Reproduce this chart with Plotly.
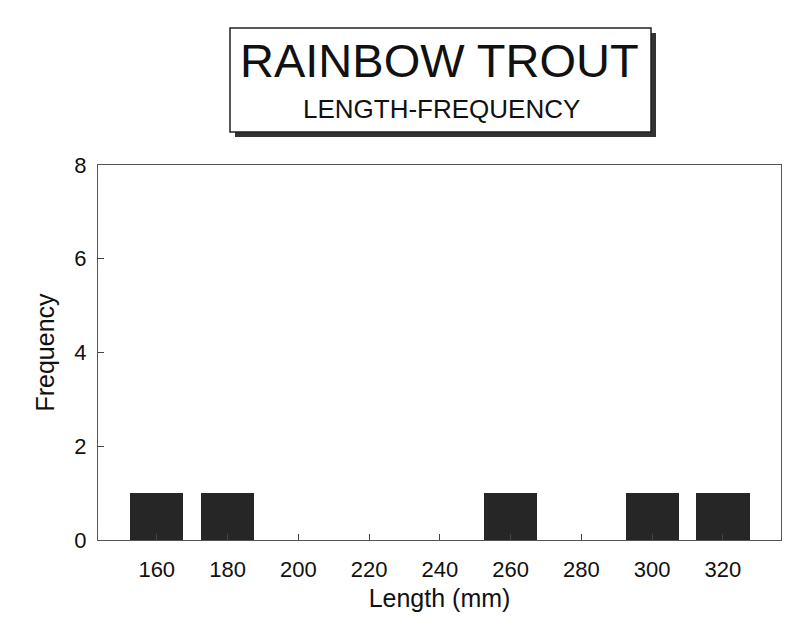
import plotly.graph_objects as go

lengths = [160, 180, 200, 220, 240, 260, 280, 300, 320]
frequency = [1, 1, 0, 0, 0, 1, 0, 1, 1]
y_ticks = [0, 2, 4, 6, 8]

FONT = "Liberation Sans, Arial, sans-serif"

fig = go.Figure()
fig.add_trace(go.Bar(
    x=lengths, y=frequency, width=15,
    marker=dict(color="#262626", line=dict(color="#111111", width=0)),
    showlegend=False,
))

W, H = 800, 630
OFF = 8  # page body margin
# target screen positions of plot area
SL, SR, ST, SB = 98, 781, 165, 540
L, T = SL - OFF, ST - OFF
R = W - (SR - OFF)
B = H - (SB - OFF)
pw, ph = SR - SL, SB - ST

def px(x):
    return (x - SL) / pw

def py(y):
    return (SB - y) / ph

shapes = [
    dict(type="rect", xref="paper", yref="paper",
         x0=px(235), x1=px(656), y0=py(137), y1=py(33),
         fillcolor="#333333", line=dict(width=0), layer="above"),
    dict(type="rect", xref="paper", yref="paper",
         x0=px(230), x1=px(651), y0=py(132), y1=py(28),
         fillcolor="white", line=dict(color="#222222", width=1.5), layer="above"),
]

annotations = [
    dict(text="RAINBOW TROUT", xref="paper", yref="paper",
         x=px(439), y=py(61), showarrow=False, xanchor="center", yanchor="middle",
         font=dict(family=FONT, size=47, color="#111111")),
    dict(text="LENGTH-FREQUENCY", xref="paper", yref="paper",
         x=px(441), y=py(109), showarrow=False, xanchor="center", yanchor="middle",
         font=dict(family=FONT, size=26, color="#111111")),
]

fig.update_layout(
    width=W, height=H,
    margin=dict(l=L, r=R, t=T, b=B),
    paper_bgcolor="white", plot_bgcolor="white",
    font=dict(family=FONT, color="#111111"),
    shapes=shapes, annotations=annotations,
    bargap=0,
)

fig.update_xaxes(
    range=[143.4, 336.4], tickvals=lengths, ticktext=[str(v) for v in lengths],
    ticks="inside", ticklen=6, tickcolor="#444444",
    showline=True, linecolor="#555555", linewidth=1, mirror=True,
    showgrid=False, zeroline=False, ticklabelstandoff=10,
    tickfont=dict(size=22), title=dict(text="Length (mm)", font=dict(size=25), standoff=8),
)
fig.update_yaxes(
    range=[0, 8], tickvals=y_ticks,
    ticks="inside", ticklen=6, tickcolor="#444444",
    showline=True, linecolor="#555555", linewidth=1, mirror=True,
    showgrid=False, zeroline=False, ticklabelstandoff=6,
    tickfont=dict(size=22), title=dict(text="Frequency", font=dict(size=25), standoff=12),
)

fig.write_html("out.html")
